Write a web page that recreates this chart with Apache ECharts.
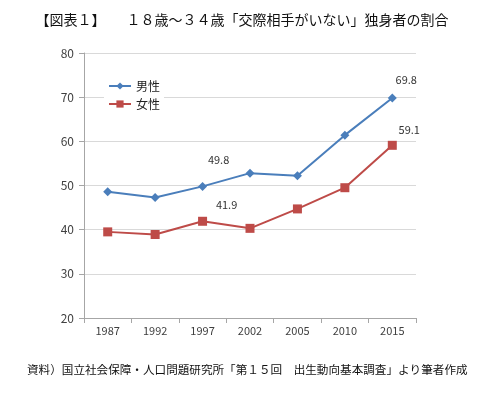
<!DOCTYPE html>
<html><head><meta charset="utf-8">
<script src="https://cdn.jsdelivr.net/npm/echarts@6/dist/echarts.min.js"></script>
<style>html,body{margin:0;padding:0;background:#fff}#c{width:484px;height:393px}</style>
</head><body><div id="c"></div>
<script>
const titleText = '【図表１】　　１８歳～３４歳「交際相手がいない」独身者の割合';
const sourceText = '資料）国立社会保障・人口問題研究所「第１５回　出生動向基本調査」より筆者作成';
const years = ['1987','1992','1997','2002','2005','2010','2015'];
const male = [48.6, 47.3, 49.8, 52.8, 52.2, 61.4, 69.8];
const female = [39.5, 38.9, 41.9, 40.3, 44.7, 49.5, 59.1];
const maleLabeled = [2, 6];
const femaleLabeled = [2, 6];
const yTicks = [20, 30, 40, 50, 60, 70, 80];

const FONT = '"Noto Sans CJK JP", sans-serif';
const maleOffsets = {2: [16, -12], 6: [14, -3]};
const femaleOffsets = {2: [24, -1], 6: [17, 0]};
function mk(vals, labeled, offs) {
  return vals.map((v, i) => labeled.includes(i)
    ? {value: v, label: {show: true, position: 'top', offset: offs[i]}}
    : {value: v});
}
const chart = echarts.init(document.getElementById('c'), null, {renderer: 'canvas'});
chart.setOption({
  animation: false,
  backgroundColor: '#fff',
  textStyle: {fontFamily: FONT},
  title: [
    {text: titleText, left: 'center', top: 8, textStyle: {fontSize: 14, fontWeight: 'normal', color: '#111', fontFamily: FONT}},
    {text: sourceText, left: 22, top: 359, textStyle: {fontSize: 11.6, fontWeight: 'normal', color: '#111', fontFamily: FONT}}
  ],
  legend: {
    orient: 'vertical', left: 104, top: 78, itemGap: 6,
    backgroundColor: '#fff', padding: [2, 4, 2, 4],
    itemWidth: 22, itemHeight: 9,
    textStyle: {fontSize: 12, color: '#222', fontFamily: FONT},
    data: ['男性', '女性']
  },
  grid: {left: 84, right: 68, top: 53, bottom: 75},
  xAxis: {
    type: 'category', data: years, boundaryGap: true,
    axisLine: {lineStyle: {color: '#a6a6a6'}},
    axisTick: {show: true, length: 5, lineStyle: {color: '#a6a6a6'}},
    axisLabel: {fontSize: 11, color: '#404040', margin: 7, fontFamily: FONT}
  },
  yAxis: {
    type: 'value', min: yTicks[0], max: yTicks[yTicks.length - 1], interval: 10,
    axisLine: {show: true, lineStyle: {color: '#a6a6a6'}},
    axisTick: {show: true, length: 5, lineStyle: {color: '#a6a6a6'}},
    splitLine: {lineStyle: {color: '#d9d9d9'}},
    axisLabel: {fontSize: 12, color: '#404040', margin: 10, fontFamily: FONT}
  },
  series: [
    {name: '男性', type: 'line', data: mk(male, maleLabeled, maleOffsets),
     symbol: 'diamond', symbolSize: 9,
     lineStyle: {color: '#4a7ebb', width: 2}, itemStyle: {color: '#4a7ebb'},
     label: {fontSize: 11, color: '#333', fontFamily: FONT}},
    {name: '女性', type: 'line', data: mk(female, femaleLabeled, femaleOffsets),
     symbol: 'rect', symbolSize: 9,
     lineStyle: {color: '#be4b48', width: 2}, itemStyle: {color: '#be4b48'},
     label: {fontSize: 11, color: '#333', fontFamily: FONT}}
  ]
});
</script></body></html>
